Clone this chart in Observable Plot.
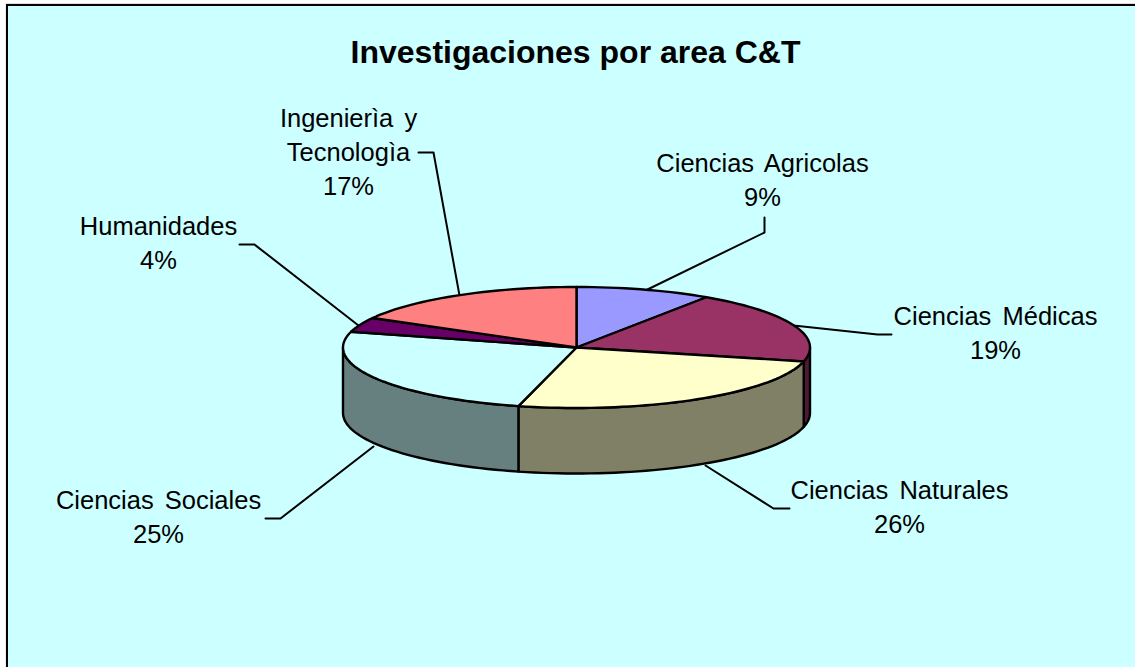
<!DOCTYPE html>
<html>
<head>
<meta charset="utf-8">
<script src="https://cdn.jsdelivr.net/npm/d3@7"></script>
<script src="https://cdn.jsdelivr.net/npm/@observablehq/plot@0.6"></script>
<style>
html,body{margin:0;padding:0;background:#fff;overflow:hidden}
svg text{word-spacing:4px}
svg g[font-weight="bold"] text{word-spacing:0}
</style>
</head>
<body>
<div id="chart"></div>
<script>
const titleText = "Investigaciones por area C&T";
const categories = ["Ciencias Agricolas","Ciencias Médicas","Ciencias Naturales","Ciencias Sociales","Humanidades","Ingenierìa y\nTecnologìa"];
const shares = [9.4,19.3,25.3,25.2,3.9,16.9];
const percentLabels = ["9%","19%","26%","25%","4%","17%"];
const topColors = ["#9999FF","#993366","#FFFFCC","#CCFFFF","#660066","#FF8080"];
const sideColors = ["#4C4C80","#4C1A33","#808066","#668080","#330033","#804040"];

// layout (pixel space of the plot)
const W = 1135, H = 667;
const pie = {cx:576, cy:347, rx:233.5, ry:60.5, depth:65.5};
const labelAt = [[762,178],[995,331],[899,505],[158,515],[158,241],[348,150]];
const leaders = [
  [[647,289],[764,232],[764,217]],
  [[793,325],[877,334],[891,334]],
  [[705,465],[773,508],[789,508]],
  [[373,446],[280,518],[265,518]],
  [[358,325],[254,244],[239,244]],
  [[459,295],[433,152],[418,152]]
];

const total = d3.sum(shares);
const cum = d3.cumsum(shares);
const slices = shares.map((v,i)=>({
  i, a0:(i?cum[i-1]:0)/total*360, a1:cum[i]/total*360
}));
const pt = (deg,dz=0)=>{
  const t = deg*Math.PI/180;
  return [pie.cx+pie.rx*Math.sin(t), pie.cy-pie.ry*Math.cos(t)+dz];
};
const arc = (a0,a1,dz=0)=>{
  const n = Math.max(2,Math.ceil((a1-a0)/2));
  return d3.range(n+1).map(k=>pt(a0+(a1-a0)*k/n,dz));
};
const topPoly = s=>[[pie.cx,pie.cy],...arc(s.a0,s.a1)];
const sidePoly = (a0,a1)=>[...arc(a0,a1),...arc(a0,a1,pie.depth).reverse()];

const poly = (pts,fill)=>Plot.line(pts,{x:d=>d[0],y:d=>d[1],fill,stroke:"#000",strokeWidth:2.4,curve:"linear-closed",strokeLinejoin:"round"});

const marks = [
  // outer hairline and chart area frame
  Plot.rect([0],{x1:()=>6,x2:()=>W+10,y1:()=>3.5,y2:()=>H+10,fill:"none",stroke:"#ddd",strokeWidth:1}),
  Plot.rect([0],{x1:()=>7,x2:()=>W+10,y1:()=>5,y2:()=>H+10,fill:"#CCFFFF",stroke:"#000",strokeWidth:2}),
  // leaders
  ...leaders.map(l=>Plot.line(l,{x:d=>d[0],y:d=>d[1],stroke:"#000",strokeWidth:2})),
  // side walls
  ...slices.filter(s=>s.a1>90&&s.a0<270).map(s=>poly(sidePoly(Math.max(s.a0,90),Math.min(s.a1,270)),sideColors[s.i])),
  // top faces
  ...slices.map(s=>poly(topPoly(s),topColors[s.i])),
  // labels
  Plot.text(categories.map((c,i)=>({t:c+"\n"+percentLabels[i],x:labelAt[i][0],y:labelAt[i][1]})),{
    x:"x",y:"y",text:"t",fontSize:25.5,lineHeight:1.333,fill:"#000",textAnchor:"middle",lineAnchor:"middle",fontFamily:"'Liberation Sans',Arial,sans-serif"
  }),
  Plot.text([titleText],{x:()=>575,y:()=>52,text:d=>d,fontSize:32,fontWeight:"bold",fill:"#000",textAnchor:"middle",lineAnchor:"middle",fontFamily:"'Liberation Sans',Arial,sans-serif"})
];

const chart = Plot.plot({
  width:W,height:H,margin:0,
  x:{domain:[0,W],range:[0,W],axis:null},
  y:{domain:[0,H],range:[0,H],axis:null},
  marks
});
document.getElementById("chart").appendChild(chart);
</script>
</body>
</html>
